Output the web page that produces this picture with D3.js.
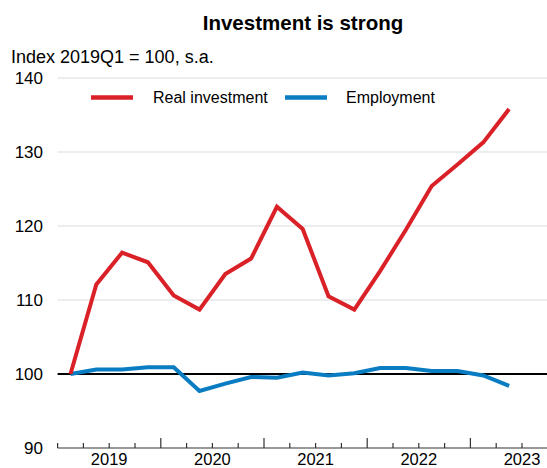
<!DOCTYPE html>
<html>
<head>
<meta charset="utf-8">
<script src="https://cdn.jsdelivr.net/npm/d3@7"></script>
<style>
	body { margin: 0; background: #fff; }
	svg { display: block; font-family: "Liberation Sans", Arial, sans-serif; }
</style>
</head>
<body>
<div id="chart"></div>
<script>
// quarterly data, 2019Q1 = 100
const quarters = [ '2019Q1', '2019Q2', '2019Q3', '2019Q4', '2020Q1', '2020Q2', '2020Q3', '2020Q4',
	'2021Q1', '2021Q2', '2021Q3', '2021Q4', '2022Q1', '2022Q2', '2022Q3', '2022Q4', '2023Q1', '2023Q2' ];
const investment = [ 100, 112.1, 116.4, 115.1, 110.6, 108.7, 113.5, 115.6,
	122.6, 119.6, 110.5, 108.7, 113.9, 119.5, 125.4, 128.3, 131.3, 135.8 ];
const employment = [ 100, 100.6, 100.6, 100.9, 100.9, 97.7, 98.7, 99.6,
	99.5, 100.2, 99.8, 100.1, 100.8, 100.8, 100.4, 100.4, 99.8, 98.4 ];
const years = [ '2019', '2020', '2021', '2022', '2023' ];
const yTicks = [ 90, 100, 110, 120, 130, 140 ];
const seriesNames = [ 'Real investment', 'Employment' ];

let width = 547,
	height = 468,
	red = '#da2128',
	blue = '#0a7cc2',
	svg = d3.select( '#chart' )
		.append( 'svg' )
		.attr( 'width', width )
		.attr( 'height', height );

// x runs over quarters, points sit in the middle of each quarter
let x = d3.scaleLinear().domain( [ 0, 19 ] ).range( [ 57.6, 547.8 ] ),
	y = d3.scaleLinear().domain( [ 90, 140 ] ).range( [ 448, 78 ] );

// title + unit
svg.append( 'text' )
	.attr( 'x', 303 ).attr( 'y', 30 )
	.attr( 'text-anchor', 'middle' )
	.attr( 'font-size', '20.5px' )
	.attr( 'font-weight', 'bold' )
	.text( 'Investment is strong' );
svg.append( 'text' )
	.attr( 'x', 11 ).attr( 'y', 63 )
	.attr( 'font-size', '18px' )
	.text( 'Index 2019Q1 = 100, s.a.' );

// gridlines
svg.append( 'g' ).selectAll( 'line' )
	.data( yTicks.filter( d => d > 100 ) )
	.join( 'line' )
	.attr( 'x1', x( 0 ) ).attr( 'x2', width )
	.attr( 'y1', d => y( d ) ).attr( 'y2', d => y( d ) )
	.attr( 'stroke', '#dcdcdc' )
	.attr( 'stroke-width', 1.2 );

// y labels
svg.append( 'g' ).selectAll( 'text' )
	.data( yTicks )
	.join( 'text' )
	.attr( 'x', 43 )
	.attr( 'y', d => y( d ) )
	.attr( 'dy', '0.36em' )
	.attr( 'text-anchor', 'end' )
	.attr( 'font-size', '17px' )
	.text( d => d );

// x axis: quarter ticks, longer ones at year boundaries
let axis = svg.append( 'g' ).attr( 'transform', `translate(0,${ y( 90 ) })` );
axis.append( 'line' )
	.attr( 'x1', x( 0 ) ).attr( 'x2', width )
	.attr( 'stroke', '#333' ).attr( 'stroke-width', 1.2 );
axis.selectAll( '.tick' )
	.data( d3.range( 0, 19 ) )
	.join( 'line' )
	.attr( 'class', 'tick' )
	.attr( 'x1', d => x( d ) ).attr( 'x2', d => x( d ) )
	.attr( 'y1', 0 )
	.attr( 'y2', d => ( d > 0 && d % 4 === 0 ) ? -10 : -5 )
	.attr( 'stroke', '#333' ).attr( 'stroke-width', 1.2 );
axis.selectAll( '.year' )
	.data( years )
	.join( 'text' )
	.attr( 'class', 'year' )
	.attr( 'x', ( d, i ) => x( i * 4 + 2 ) )
	.attr( 'y', 17 )
	.attr( 'text-anchor', 'middle' )
	.attr( 'font-size', '16.5px' )
	.text( d => d );

// 100 baseline
svg.append( 'line' )
	.attr( 'x1', x( 0 ) ).attr( 'x2', width )
	.attr( 'y1', y( 100 ) ).attr( 'y2', y( 100 ) )
	.attr( 'stroke', '#000' )
	.attr( 'stroke-width', 2 );

// lines
let line = d3.line()
	.x( ( d, i ) => x( i + 0.5 ) )
	.y( d => y( d ) );

[ [ employment, blue ], [ investment, red ] ].forEach( ( [ data, color ] ) => {
	svg.append( 'path' )
		.datum( data )
		.attr( 'd', line )
		.attr( 'fill', 'none' )
		.attr( 'stroke', color )
		.attr( 'stroke-width', 4 )
		.attr( 'stroke-linejoin', 'miter' );
} );

// legend
let legend = svg.append( 'g' ).selectAll( 'g' )
	.data( seriesNames )
	.join( 'g' )
	.attr( 'transform', ( d, i ) => `translate(${ 91 + i * 194 },97.5)` );
legend.append( 'line' )
	.attr( 'x1', 0 ).attr( 'x2', 42 )
	.attr( 'stroke', ( d, i ) => i ? blue : red )
	.attr( 'stroke-width', 4.5 );
legend.append( 'text' )
	.attr( 'x', ( d, i ) => i ? 61 : 62 )
	.attr( 'dy', '0.36em' )
	.attr( 'font-size', '16px' )
	.text( d => d );
</script>
</body>
</html>
